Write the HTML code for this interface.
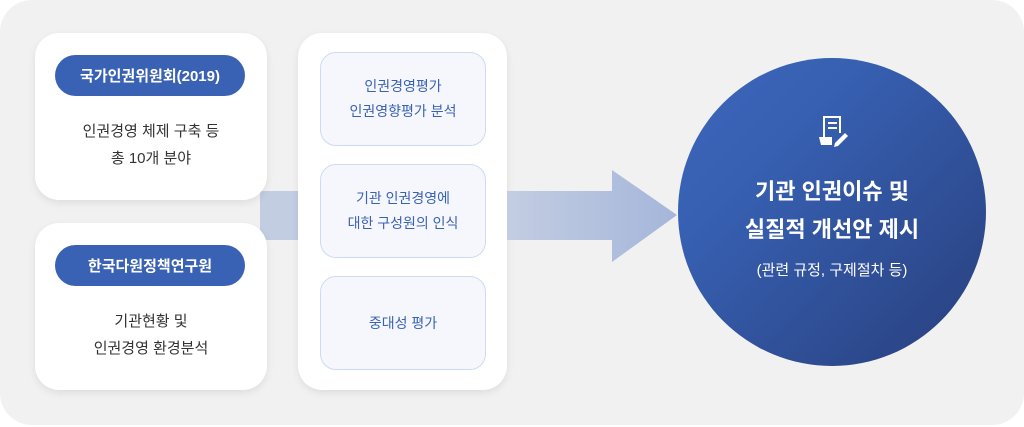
<!DOCTYPE html>
<html><head><meta charset="utf-8"><style>
*{margin:0;padding:0;box-sizing:border-box}
body{width:1024px;height:427px;background:#fff;position:relative;overflow:hidden;font-family:"Liberation Sans","Noto Sans CJK KR",sans-serif}
.bg{position:absolute;left:0;top:0;width:1024px;height:425px;background:#f1f1f1;border-radius:32px}
.card{position:absolute;background:#fff;border-radius:24px;box-shadow:0 3px 8px rgba(0,0,0,.08)}
.pill{position:absolute;left:20px;width:190px;height:41px;border-radius:21px;background:#3a62b4;color:#fff;font-size:15px;font-weight:bold;display:flex;align-items:center;justify-content:center}
.txt{position:absolute;left:0;width:232px;text-align:center;color:#333;font-size:15px;line-height:27px}
.box{position:absolute;left:22px;width:166px;height:94px;border:1.5px solid #cfdaf0;background:#f5f7fc;border-radius:16px;color:#3a62b4;font-size:14px;line-height:25px;display:flex;align-items:center;justify-content:center;text-align:center}
.band{position:absolute;top:191px;height:49px;background:#c3cde2}
</style></head><body>
<div class="bg"></div>
<div class="band" style="left:260px;width:45px"></div>
<div class="card" style="left:35px;top:33px;width:232px;height:167px">
 <div class="pill" style="top:22px">국가인권위원회(2019)</div>
 <div class="txt" style="top:85px">인권경영 체제 구축 등<br>총 10개 분야</div>
</div>
<div class="card" style="left:35px;top:223px;width:232px;height:167px">
 <div class="pill" style="top:22px">한국다원정책연구원</div>
 <div class="txt" style="top:85px">기관현황 및<br>인권경영 환경분석</div>
</div>
<div class="card" style="left:298px;top:33px;width:209px;height:357px">
 <div class="box" style="top:19px">인권경영평가<br>인권영향평가 분석</div>
 <div class="box" style="top:131px">기관 인권경영에<br>대한 구성원의 인식</div>
 <div class="box" style="top:243px">중대성 평가</div>
</div>
<svg style="position:absolute;left:0;top:0" width="1024" height="427">
 <defs><linearGradient id="g" x1="0" y1="0" x2="1" y2="1"><stop offset="0" stop-color="#3d66bb"/><stop offset="0.3" stop-color="#3760b2"/><stop offset="1" stop-color="#283f7d"/></linearGradient>
 <linearGradient id="a" x1="0" x2="1"><stop offset="0" stop-color="#c3cde2"/><stop offset="1" stop-color="#a5b6da"/></linearGradient></defs>
 <polygon points="507,191 612,191 612,170 677,215 612,262 612,240 507,240" fill="url(#a)"/>
 <circle cx="832" cy="212" r="154" fill="url(#g)"/>
 <g fill="none" stroke="#fff" stroke-width="2">
  <path d="M824 141 V117 H840 V133"/>
  <line x1="828" y1="123" x2="837" y2="123"/><line x1="828" y1="128" x2="837" y2="128"/>
 </g>
 <path d="M819 137 H832 V145 H821 Z" fill="#fff"/>
 <path d="M835 143 L845 133 L848 136 L838 146 L834 147 Z" fill="#fff"/>
 <g font-family="Liberation Sans,Noto Sans CJK KR,sans-serif" fill="#fff" text-anchor="middle">
  <text x="832" y="199" font-size="22" font-weight="bold">기관 인권이슈 및</text>
  <text x="832" y="237" font-size="22" font-weight="bold">실질적 개선안 제시</text>
  <text x="832" y="275" font-size="15">(관련 규정, 구제절차 등)</text>
 </g>
</svg>
</body></html>
